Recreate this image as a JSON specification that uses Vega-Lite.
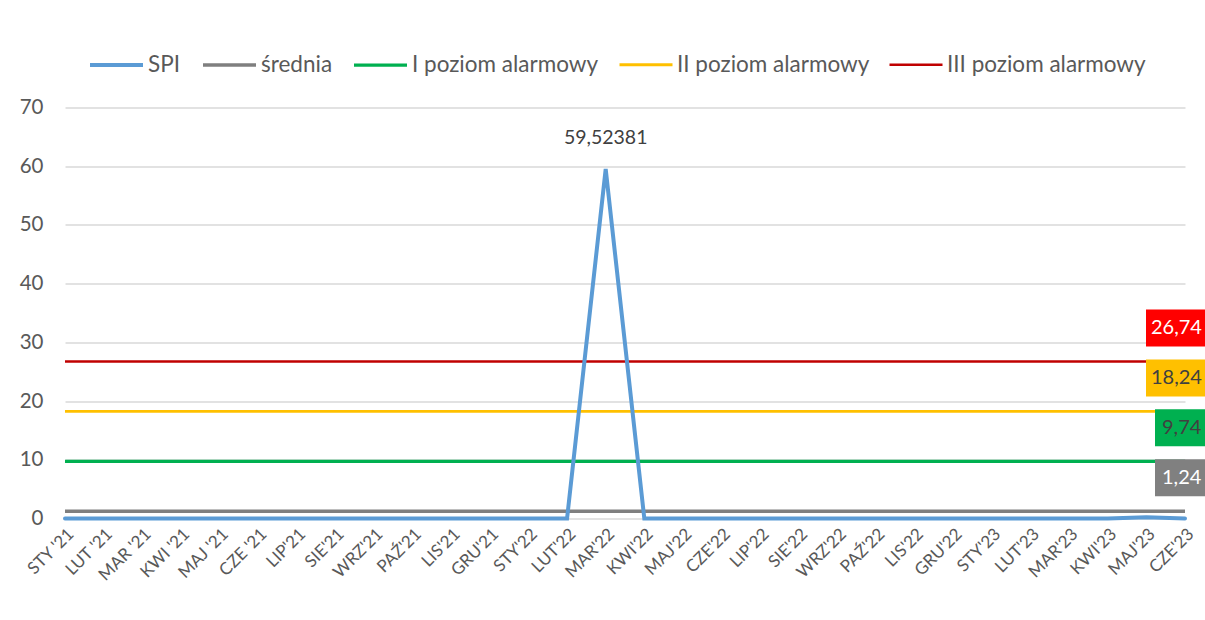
{
  "$schema": "https://vega.github.io/schema/vega-lite/v6.json",
  "autosize": "none",
  "width": 1120,
  "height": 411,
  "padding": {"left": 65, "top": 107.5, "right": 20, "bottom": 101.5},
  "background": "white",
  "config": {
    "font": "Lato",
    "view": {"stroke": null},
    "locale": {"number": {"decimal": ",", "thousands": " ", "grouping": [3], "currency": ["", " zł"]}},
    "axis": {"labelFont": "Lato", "labelColor": "#595959"}
  },
  "datasets": {
    "spi": [
      {"month": "STY '21", "series": "SPI", "value": 0},
      {"month": "LUT '21", "series": "SPI", "value": 0},
      {"month": "MAR '21", "series": "SPI", "value": 0},
      {"month": "KWI '21", "series": "SPI", "value": 0},
      {"month": "MAJ '21", "series": "SPI", "value": 0},
      {"month": "CZE '21", "series": "SPI", "value": 0},
      {"month": "LIP'21", "series": "SPI", "value": 0},
      {"month": "SIE'21", "series": "SPI", "value": 0},
      {"month": "WRZ'21", "series": "SPI", "value": 0},
      {"month": "PAŹ'21", "series": "SPI", "value": 0},
      {"month": "LIS'21", "series": "SPI", "value": 0},
      {"month": "GRU'21", "series": "SPI", "value": 0},
      {"month": "STY'22", "series": "SPI", "value": 0},
      {"month": "LUT'22", "series": "SPI", "value": 0},
      {"month": "MAR'22", "series": "SPI", "value": 59.52381},
      {"month": "KWI'22", "series": "SPI", "value": 0},
      {"month": "MAJ'22", "series": "SPI", "value": 0},
      {"month": "CZE'22", "series": "SPI", "value": 0},
      {"month": "LIP'22", "series": "SPI", "value": 0},
      {"month": "SIE'22", "series": "SPI", "value": 0},
      {"month": "WRZ'22", "series": "SPI", "value": 0},
      {"month": "PAŹ'22", "series": "SPI", "value": 0},
      {"month": "LIS'22", "series": "SPI", "value": 0},
      {"month": "GRU'22", "series": "SPI", "value": 0},
      {"month": "STY'23", "series": "SPI", "value": 0},
      {"month": "LUT'23", "series": "SPI", "value": 0},
      {"month": "MAR'23", "series": "SPI", "value": 0},
      {"month": "KWI'23", "series": "SPI", "value": 0},
      {"month": "MAJ'23", "series": "SPI", "value": 0.2},
      {"month": "CZE'23", "series": "SPI", "value": 0}
    ],
    "levels": [
      {"series": "średnia", "value": 1.24},
      {"series": "I poziom alarmowy", "value": 9.74},
      {"series": "II poziom alarmowy", "value": 18.24},
      {"series": "III poziom alarmowy", "value": 26.74}
    ]
  },
  "encoding": {
    "x": {
      "field": "month", "type": "nominal",
      "scale": {"type": "point", "padding": 0, "domain": ["STY '21","LUT '21","MAR '21","KWI '21","MAJ '21","CZE '21","LIP'21","SIE'21","WRZ'21","PAŹ'21","LIS'21","GRU'21","STY'22","LUT'22","MAR'22","KWI'22","MAJ'22","CZE'22","LIP'22","SIE'22","WRZ'22","PAŹ'22","LIS'22","GRU'22","STY'23","LUT'23","MAR'23","KWI'23","MAJ'23","CZE'23"]},
      "axis": {"title": null, "labelAngle": -45, "labelFontSize": 17, "ticks": false, "domain": false, "grid": false, "labelPadding": 7}
    },
    "y": {
      "field": "value", "type": "quantitative",
      "scale": {"domain": [0, 70], "nice": false},
      "axis": {"title": null, "values": [0,10,20,30,40,50,60,70], "labelFontSize": 20.5, "ticks": false, "domain": false, "gridColor": "#D9D9D9", "gridWidth": 1.3, "labelPadding": 22}
    }
  },
  "layer": [
    {
      "data": {"name": "levels"},
      "mark": {"type": "rule"},
      "encoding": {
        "x": null,
        "color": {"field": "series", "type": "nominal"},
        "strokeWidth": {"field": "series", "type": "nominal"}
      }
    },
    {
      "data": {"name": "spi"},
      "mark": {"type": "line", "strokeCap": "round", "strokeJoin": "miter"},
      "encoding": {
        "color": {
          "field": "series", "type": "nominal",
          "scale": {"domain": ["SPI", "średnia", "I poziom alarmowy", "II poziom alarmowy", "III poziom alarmowy"], "range": ["#5B9BD5", "#7F7F7F", "#00B050", "#FFC000", "#C00000"]},
          "legend": {"orient": "none", "legendX": 23, "legendY": -71, "direction": "horizontal", "title": null, "symbolType": "stroke", "symbolSize": 2809, "labelFontSize": 22.5, "labelColor": "#595959", "labelFont": "Lato", "labelOffset": 3, "columnPadding": 14, "labelLimit": 400}
        },
        "strokeWidth": {
          "field": "series", "type": "nominal",
          "scale": {"domain": ["SPI", "średnia", "I poziom alarmowy", "II poziom alarmowy", "III poziom alarmowy"], "range": [4, 2.5, 2.5, 2.5, 2.5]}
        }
      }
    },
    {
      "data": {"name": "spi"},
      "transform": [{"filter": "datum.value > 50"}],
      "mark": {"type": "text", "fontSize": 19.5, "color": "#404040", "dy": -31, "font": "Lato"},
      "encoding": {"text": {"field": "value", "type": "quantitative", "format": ".5f"}}
    },
    {
      "data": {"name": "levels"},
      "transform": [{"filter": "datum.value > 10"}],
      "encoding": {"x": {"datum": "CZE'23"}},
      "layer": [
        {
          "mark": {"type": "point", "filled": true, "opacity": 1, "size": 4, "strokeWidth": 0, "shape": "M-39,-52L45,-52L45,-15L-39,-15Z"},
          "encoding": {
            "fill": {"field": "series", "type": "nominal", "legend": null,
              "scale": {"domain": ["średnia", "I poziom alarmowy", "II poziom alarmowy", "III poziom alarmowy"], "range": ["#808080", "#00B050", "#FFC000", "#FF0000"]}}
          }
        },
        {
          "mark": {"type": "text", "align": "left", "baseline": "middle", "dx": -34, "dy": -33.5, "fontSize": 20, "font": "Lato"},
          "encoding": {
            "text": {"field": "value", "type": "quantitative", "format": ".2f"},
            "fill": {"condition": {"test": "datum.series === 'II poziom alarmowy' || datum.series === 'I poziom alarmowy'", "value": "#404040"}, "value": "white"}
          }
        }
      ]
    },
    {
      "data": {"name": "levels"},
      "transform": [{"filter": "datum.value < 10"}],
      "encoding": {"x": {"datum": "CZE'23"}},
      "layer": [
        {
          "mark": {"type": "point", "filled": true, "opacity": 1, "size": 4, "strokeWidth": 0, "shape": "M-30,-52L45,-52L45,-15L-30,-15Z"},
          "encoding": {
            "fill": {"field": "series", "type": "nominal", "legend": null}
          }
        },
        {
          "mark": {"type": "text", "align": "left", "baseline": "middle", "dx": -23, "dy": -33.5, "fontSize": 20, "font": "Lato"},
          "encoding": {
            "text": {"field": "value", "type": "quantitative", "format": ".2f"},
            "fill": {"condition": {"test": "datum.series === 'II poziom alarmowy' || datum.series === 'I poziom alarmowy'", "value": "#404040"}, "value": "white"}
          }
        }
      ]
    }
  ]
}
